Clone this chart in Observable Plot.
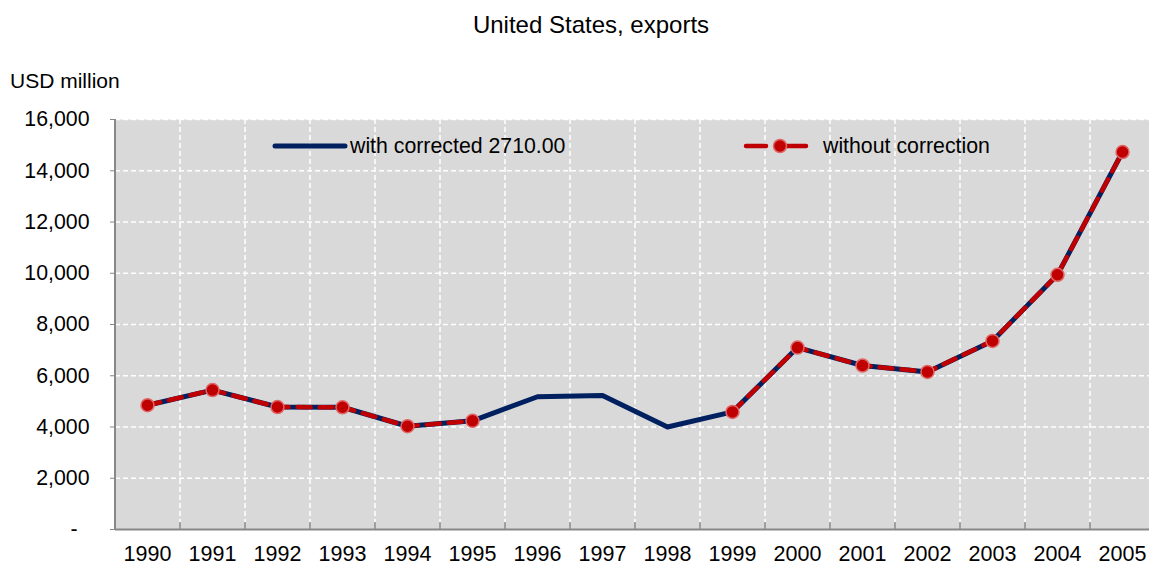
<!DOCTYPE html>
<html><head><meta charset="utf-8">
<script src="https://cdn.jsdelivr.net/npm/d3@7"></script>
<script src="https://cdn.jsdelivr.net/npm/@observablehq/plot@0.6"></script>
<style>
body{margin:0;background:#fff;}
svg{font-family:"Liberation Sans",Arial,sans-serif;}
</style>
</head><body><div id="chart"></div>
<script>
const years = [1990,1991,1992,1993,1994,1995,1996,1997,1998,1999,2000,2001,2002,2003,2004,2005];
const corrected = [4850,5440,4780,4770,4030,4240,5180,5230,4000,4590,7100,6400,6150,7360,9940,14730];
const without = [4850,5440,4780,4770,4030,4240,null,null,null,4590,7100,6400,6150,7360,9940,14730];
const yTicks = [0,2000,4000,6000,8000,10000,12000,14000,16000];
const seriesNames = ["with corrected 2710.00","without correction"];
const title = "United States, exports";
const unit = "USD million";

const data = years.map((year,i)=>({year, corrected: corrected[i], without: without[i]}));
const boundaries = years.slice(0,-1).map(y=>y+0.5);
const fmt = d3.format(",");
const grid = {stroke:"#fff", strokeOpacity:1, strokeWidth:1.5, strokeDasharray:"5,3"};

const plot = Plot.plot({
  width:1149, height:565, marginTop:119, marginBottom:36, marginLeft:115, marginRight:0,
  style:{fontFamily:"Liberation Sans, Arial, sans-serif", fontSize:"21px", background:"#fff", color:"#000", overflow:"visible"},
  x:{domain:[1989.5,2005.5], range:[114.5,1154.5]},
  y:{domain:[0,16000]},
  marks:[
    Plot.frame({fill:"#d9d9d9", stroke:"none"}),
    Plot.gridY(yTicks.filter(d=>d>0), grid),
    Plot.gridX(boundaries, grid),
    Plot.ruleX(boundaries, {stroke:"#888", strokeWidth:1.5, insetTop:403}),
    Plot.ruleY([0], {stroke:"#888", strokeWidth:2}),
    Plot.ruleX([1989.5], {stroke:"#888", strokeWidth:2}),
    Plot.axisY(yTicks, {tickSize:5, tickPadding:21, stroke:"#888", fill:"#000", fontSize:21.3,
      tickFormat: d => d === 0 ? "-\u00a0\u00a0" : fmt(d), label:null}),
    Plot.axisX(years, {tickSize:0, tickPadding:16, fill:"#000", fontSize:21.5, tickFormat: d => String(d), label:null}),
    Plot.line(data, {x:"year", y:"corrected", stroke:"#002060", strokeWidth:5}),
    Plot.line(data, {x:"year", y:"without", stroke:"#c00000", strokeWidth:4.5, strokeDasharray:"13,9"}),
    Plot.dot(data.filter(d=>d.without!=null), {x:"year", y:"without", r:6.5, fill:"#c00000", stroke:"#e06666", strokeWidth:1.5})
  ]
});
document.getElementById("chart").appendChild(plot);

const svg = d3.select(plot);
svg.append("text").attr("x",591).attr("y",33).attr("text-anchor","middle").attr("font-size",24).attr("fill","#000").text(title);
svg.append("text").attr("x",10).attr("y",88).attr("text-anchor","start").attr("font-size",21).attr("fill","#000").text(unit);
const lg = svg.append("g").attr("text-anchor","start");
lg.append("line").attr("x1",275).attr("x2",345).attr("y1",146).attr("y2",146).attr("stroke","#002060").attr("stroke-width",5).attr("stroke-linecap","round");
lg.append("text").attr("x",350).attr("y",146).attr("dy","0.35em").attr("font-size",21.3).attr("fill","#000").text(seriesNames[0]);
lg.append("line").attr("x1",746).attr("x2",766).attr("y1",146).attr("y2",146).attr("stroke","#c00000").attr("stroke-width",4.5).attr("stroke-linecap","round");
lg.append("line").attr("x1",780).attr("x2",806).attr("y1",146).attr("y2",146).attr("stroke","#c00000").attr("stroke-width",4.5).attr("stroke-linecap","round");
lg.append("circle").attr("cx",780).attr("cy",146).attr("r",6.5).attr("fill","#c00000").attr("stroke","#e06666").attr("stroke-width",1.5);
lg.append("text").attr("x",823).attr("y",146).attr("dy","0.35em").attr("font-size",21.3).attr("fill","#000").text(seriesNames[1]);
</script>
</body></html>
